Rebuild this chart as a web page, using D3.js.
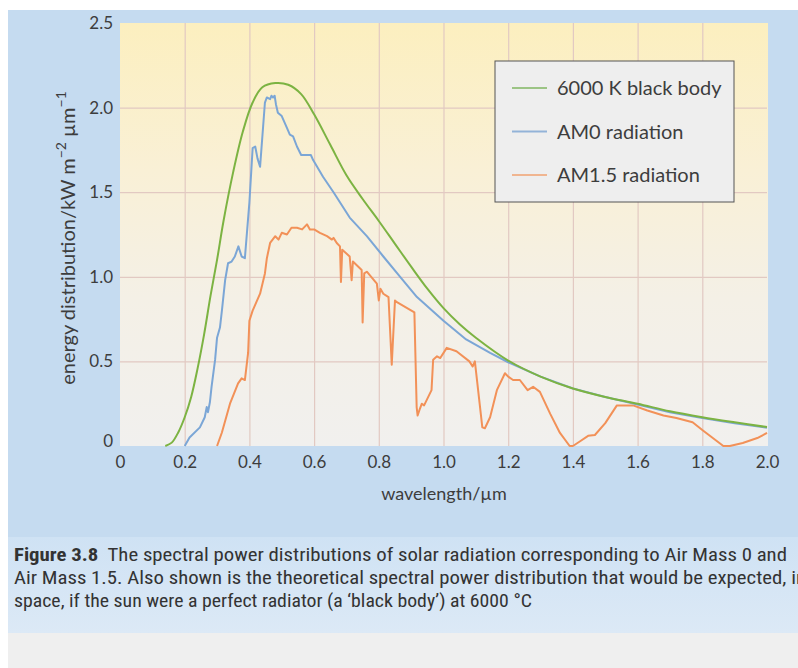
<!DOCTYPE html>
<html>
<head>
<meta charset="utf-8">
<script src="https://cdn.jsdelivr.net/npm/d3@7"></script>
<style>
  html, body { margin: 0; padding: 0; background: #ffffff; }
  svg { display: block; }
</style>
</head>
<body>
<svg id="chart" width="798" height="668"></svg>
<script>
// Wavelength (µm) and energy distribution (kW m^-2 µm^-1) for each curve
const blackBodyWavelength = [0.14, 0.16, 0.18, 0.20, 0.22, 0.24, 0.26, 0.28, 0.30, 0.32, 0.35, 0.38, 0.41, 0.44, 0.48, 0.52, 0.56, 0.60, 0.65, 0.70, 0.75, 0.80, 0.85, 0.90, 0.95, 1.0, 1.05, 1.1, 1.2, 1.3, 1.4, 1.5, 1.6, 1.7, 1.8, 1.9, 2.0];
const blackBodyEnergy     = [0.0, 0.02, 0.08, 0.17, 0.29, 0.46, 0.66, 0.89, 1.10, 1.33, 1.62, 1.86, 2.03, 2.12, 2.145, 2.135, 2.08, 1.96, 1.78, 1.60, 1.46, 1.33, 1.195, 1.06, 0.93, 0.815, 0.72, 0.64, 0.505, 0.41, 0.34, 0.29, 0.25, 0.205, 0.17, 0.14, 0.112];

const am0Wavelength = [0.20, 0.215, 0.247, 0.262, 0.268, 0.272, 0.278, 0.283, 0.294, 0.30, 0.309, 0.315, 0.325, 0.334, 0.345, 0.355, 0.366, 0.376, 0.386, 0.40, 0.41, 0.418, 0.425, 0.433, 0.448, 0.454, 0.464, 0.468, 0.473, 0.478, 0.482, 0.488, 0.50, 0.516, 0.525, 0.535, 0.547, 0.56, 0.59, 0.597, 0.628, 0.66, 0.71, 0.763, 0.814, 0.866, 0.918, 1.0, 1.07, 1.144, 1.2, 1.3, 1.4, 1.5, 1.6, 1.7, 1.8, 1.9, 2.0];
const am0Energy     = [0.0, 0.05, 0.11, 0.17, 0.23, 0.20, 0.26, 0.35, 0.51, 0.64, 0.70, 0.80, 0.98, 1.08, 1.09, 1.12, 1.18, 1.12, 1.11, 1.44, 1.76, 1.77, 1.70, 1.65, 2.03, 2.06, 2.05, 2.07, 2.06, 2.07, 2.02, 1.97, 1.95, 1.88, 1.84, 1.83, 1.77, 1.72, 1.72, 1.69, 1.59, 1.50, 1.35, 1.24, 1.12, 1.00, 0.88, 0.74, 0.63, 0.55, 0.495, 0.41, 0.34, 0.29, 0.245, 0.20, 0.165, 0.135, 0.108];

const am15Wavelength = [0.30, 0.315, 0.34, 0.365, 0.376, 0.386, 0.396, 0.40, 0.41, 0.433, 0.448, 0.454, 0.464, 0.48, 0.49, 0.50, 0.516, 0.53, 0.547, 0.563, 0.578, 0.587, 0.60, 0.618, 0.64, 0.655, 0.66, 0.67, 0.68, 0.683, 0.687, 0.71, 0.716, 0.72, 0.747, 0.75, 0.755, 0.763, 0.794, 0.80, 0.805, 0.814, 0.83, 0.84, 0.85, 0.856, 0.91, 0.917, 0.92, 0.927, 0.933, 0.94, 0.963, 0.968, 0.98, 0.99, 1.01, 1.04, 1.08, 1.09, 1.097, 1.12, 1.128, 1.144, 1.165, 1.19, 1.2, 1.215, 1.236, 1.26, 1.277, 1.298, 1.33, 1.36, 1.39, 1.40, 1.42, 1.447, 1.468, 1.50, 1.536, 1.586, 1.63, 1.68, 1.72, 1.77, 1.80, 1.865, 1.885, 1.925, 1.97, 2.0];
const am15Energy     = [0.0, 0.08, 0.25, 0.37, 0.40, 0.39, 0.55, 0.74, 0.80, 0.90, 1.02, 1.11, 1.20, 1.24, 1.22, 1.26, 1.25, 1.29, 1.29, 1.28, 1.31, 1.28, 1.28, 1.26, 1.24, 1.22, 1.23, 1.20, 1.18, 0.97, 1.16, 1.12, 0.98, 1.09, 1.04, 0.73, 1.02, 1.03, 0.96, 0.86, 0.93, 0.90, 0.88, 0.48, 0.86, 0.85, 0.79, 0.23, 0.18, 0.22, 0.25, 0.24, 0.33, 0.51, 0.53, 0.52, 0.58, 0.56, 0.50, 0.47, 0.50, 0.11, 0.105, 0.17, 0.33, 0.43, 0.41, 0.39, 0.39, 0.33, 0.35, 0.32, 0.19, 0.077, 0.0, 0.0, 0.025, 0.06, 0.065, 0.135, 0.24, 0.24, 0.21, 0.18, 0.165, 0.14, 0.095, 0.0, 0.0, 0.018, 0.047, 0.077];

const seriesNames = ["6000 K black body", "AM0 radiation", "AM1.5 radiation"];

const xTickValues = [0, 0.2, 0.4, 0.6, 0.8, 1.0, 1.2, 1.4, 1.6, 1.8, 2.0];
const xTickLabels = ["0", "0.2", "0.4", "0.6", "0.8", "1.0", "1.2", "1.4", "1.6", "1.8", "2.0"];
const yTickValues = [0, 0.5, 1.0, 1.5, 2.0, 2.5];
const yTickLabels = ["0", "0.5", "1.0", "1.5", "2.0", "2.5"];

const captionLines = [
  "The spectral power distributions of solar radiation corresponding to Air Mass 0 and",
  "Air Mass 1.5. Also shown is the theoretical spectral power distribution that would be expected, in",
  "space, if the sun were a perfect radiator (a \u2018black body\u2019) at 6000 \u00B0C"
];

// ---- layout ----
const W = 798, H = 668;
const plot = { left: 120, right: 767, top: 23, bottom: 446 };
const font = "Lato, 'Open Sans', 'DejaVu Sans', sans-serif";
const textColor = "#3d3d3d";
const colors = { bb: "#7cb342", am0: "#7ba6d6", am15: "#f29158" };

const svg = d3.select("#chart");
const defs = svg.append("defs");

const plotGrad = defs.append("linearGradient")
  .attr("id", "plotFill").attr("x1", 0).attr("y1", 0).attr("x2", 0).attr("y2", 1);
plotGrad.append("stop").attr("offset", "0%").attr("stop-color", "#fcefbf");
plotGrad.append("stop").attr("offset", "35%").attr("stop-color", "#f9f0d6");
plotGrad.append("stop").attr("offset", "65%").attr("stop-color", "#f4f0e6");
plotGrad.append("stop").attr("offset", "100%").attr("stop-color", "#f1f0ee");

const capGrad = defs.append("linearGradient")
  .attr("id", "capFill").attr("x1", 0).attr("y1", 0).attr("x2", 0).attr("y2", 1);
capGrad.append("stop").attr("offset", "0%").attr("stop-color", "#cfe2f4");
capGrad.append("stop").attr("offset", "100%").attr("stop-color", "#dce9f6");

// page panels
svg.append("rect").attr("x", 0).attr("y", 0).attr("width", W).attr("height", H).attr("fill", "#ffffff");
svg.append("rect").attr("x", 8).attr("y", 10).attr("width", W - 8).attr("height", 527).attr("fill", "#c5dbf0");
svg.append("rect").attr("x", 8).attr("y", 537).attr("width", W - 8).attr("height", 96).attr("fill", "url(#capFill)");
svg.append("rect").attr("x", 8).attr("y", 633).attr("width", W - 8).attr("height", H - 633).attr("fill", "#efefef");

// scales
const x = d3.scaleLinear().domain([0, 2.0]).range([plot.left, plot.right]);
const y = d3.scaleLinear().domain([0, 2.5]).range([plot.bottom, plot.top]);

// plot background
svg.append("rect")
  .attr("x", x(0)).attr("y", y(2.5))
  .attr("width", x(2.0) - x(0) + 1).attr("height", y(0) - y(2.5))
  .attr("fill", "url(#plotFill)");

// grid
const gridColor = "#e2c9c2";
svg.append("g")
  .attr("transform", `translate(0,${plot.bottom})`)
  .call(d3.axisBottom(x).tickValues(xTickValues.slice(1, -1)).tickSize(-(plot.bottom - plot.top)).tickFormat(""))
  .call(g => g.select(".domain").remove())
  .call(g => g.selectAll("line").attr("stroke", gridColor).attr("stroke-width", 1.2));
svg.append("g")
  .attr("transform", `translate(${plot.left},0)`)
  .call(d3.axisLeft(y).tickValues(yTickValues.slice(1, -1)).tickSize(-(plot.right - plot.left)).tickFormat(""))
  .call(g => g.select(".domain").remove())
  .call(g => g.selectAll("line").attr("stroke", gridColor).attr("stroke-width", 1.2));

// tick labels
svg.append("g")
  .attr("transform", `translate(0,${plot.bottom})`)
  .call(d3.axisBottom(x).tickValues(xTickValues).tickSize(0).tickPadding(10)
    .tickFormat((d, i) => xTickLabels[i]))
  .call(g => g.select(".domain").remove())
  .call(g => g.selectAll("text").attr("font-family", font).attr("font-size", 17).attr("fill", textColor));
svg.append("g")
  .attr("transform", `translate(${plot.left},0)`)
  .call(d3.axisLeft(y).tickValues(yTickValues).tickSize(0).tickPadding(7)
    .tickFormat((d, i) => yTickLabels[i]))
  .call(g => g.select(".domain").remove())
  .call(g => g.selectAll("text").attr("font-family", font).attr("font-size", 17).attr("fill", textColor)
    .attr("dy", (d) => d === 0 ? "0.05em" : "0.32em"));

// axis titles
svg.append("text")
  .attr("x", 444).attr("y", 500)
  .attr("text-anchor", "middle")
  .attr("font-family", font).attr("font-size", 18).attr("fill", textColor)
  .text("wavelength/\u00B5m");

const yTitle = svg.append("text")
  .attr("transform", "translate(75,238) rotate(-90)")
  .attr("text-anchor", "middle")
  .attr("font-family", font).attr("font-size", 20).attr("fill", textColor);
yTitle.append("tspan").text("energy distribution/kW m");
yTitle.append("tspan").attr("font-size", 14).attr("dy", -9).text("\u22122");
yTitle.append("tspan").attr("dy", 9).text(" \u00B5m");
yTitle.append("tspan").attr("font-size", 14).attr("dy", -9).text("\u22121");

// curves
const line = d3.line().x(d => x(d[0])).y(d => y(d[1]));
const zipped = (xs, ys) => xs.map((v, i) => [v, ys[i]]);

svg.append("path")
  .datum(zipped(am15Wavelength, am15Energy))
  .attr("fill", "none").attr("stroke", colors.am15).attr("stroke-width", 2)
  .attr("stroke-linejoin", "round")
  .attr("d", line);
svg.append("path")
  .datum(zipped(am0Wavelength, am0Energy))
  .attr("fill", "none").attr("stroke", colors.am0).attr("stroke-width", 2)
  .attr("stroke-linejoin", "round")
  .attr("d", line);
svg.append("path")
  .datum(zipped(blackBodyWavelength, blackBodyEnergy))
  .attr("fill", "none").attr("stroke", colors.bb).attr("stroke-width", 2)
  .attr("d", d3.line().x(d => x(d[0])).y(d => y(d[1])).curve(d3.curveCatmullRom.alpha(0.5)));

// legend
const legend = svg.append("g");
legend.append("rect")
  .attr("x", 495).attr("y", 61).attr("width", 239).attr("height", 141)
  .attr("fill", "#eeeeee").attr("stroke", "#555555").attr("stroke-width", 1);
const legendColors = ["#9cc485", "#93b3d8", "#f0b590"];
seriesNames.forEach((name, i) => {
  const cy = 88 + i * 43.5;
  legend.append("line")
    .attr("x1", 512).attr("x2", 547).attr("y1", cy).attr("y2", cy)
    .attr("stroke", legendColors[i]).attr("stroke-width", 2);
  legend.append("text")
    .attr("x", 557).attr("y", cy).attr("dy", "0.35em")
    .attr("font-family", font).attr("font-size", 20).attr("fill", textColor)
    .text(name);
});

// caption
const capFont = "'Liberation Sans Narrow', 'Roboto Condensed', Lato, sans-serif";
const capWidths = [773, 792, 518];
captionLines.forEach((t, i) => {
  const txt = svg.append("text")
    .attr("x", 14).attr("y", 561 + i * 23)
    .attr("font-family", capFont).attr("font-size", 18).attr("fill", "#333333")
    .attr("textLength", capWidths[i]).attr("lengthAdjust", "spacingAndGlyphs");
  if (i === 0) {
    txt.append("tspan").attr("font-weight", "bold").text("Figure 3.8");
    txt.append("tspan").text("\u2002" + t);
  } else {
    txt.text(t);
  }
});
</script>
</body>
</html>
